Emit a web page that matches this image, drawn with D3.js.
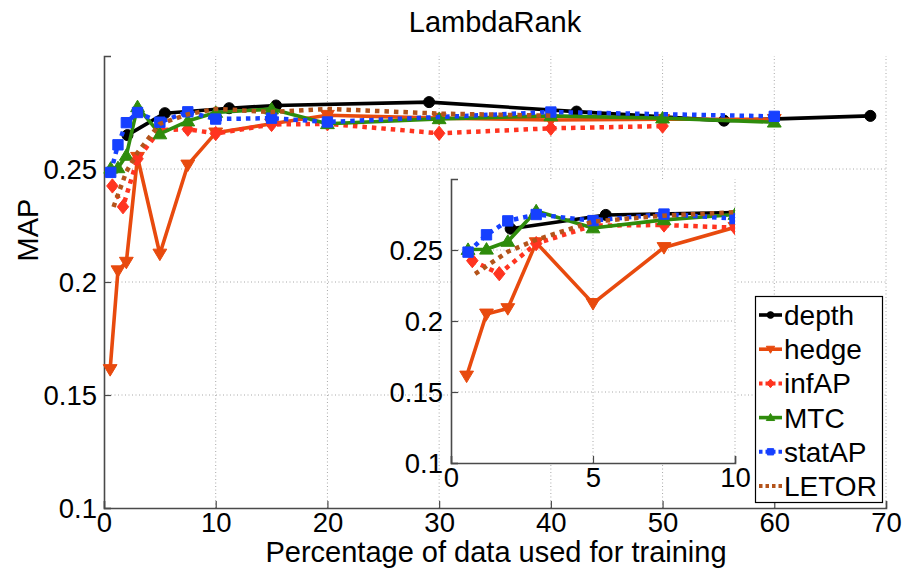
<!DOCTYPE html>
<html>
<head>
<meta charset="utf-8">
<script src="https://cdn.jsdelivr.net/npm/d3@7"></script>
<style>
  html, body { margin: 0; padding: 0; background: #fff; }
  svg { display: block; font-family: "Liberation Sans", Arial, Helvetica, sans-serif; }
</style>
</head>
<body>
<svg id="chart" width="902" height="569"></svg>
<script>
// MAP of LambdaRank as a function of the share of data used for training
const depthX  = [2.1, 5.45, 11.2, 15.4, 29.1, 42.3, 55.5, 68.6];
const depthY  = [0.2650, 0.2747, 0.2769, 0.2781, 0.2796, 0.2754, 0.2714, 0.2735];

const hedgeX  = [0.55, 1.25, 2, 3, 5, 7.5, 10, 15, 20, 30, 40, 50, 60];
const hedgeY  = [0.1613, 0.2050, 0.2088, 0.2552, 0.2124, 0.2518, 0.2660, 0.2700, 0.2738, 0.2725, 0.2717, 0.2720, 0.2720];

const infAPX  = [0.75, 1.7, 3, 5, 7.5, 10, 15, 20, 30, 40, 50];
const infAPY  = [0.2425, 0.2333, 0.2545, 0.2672, 0.2676, 0.2657, 0.2697, 0.2700, 0.2658, 0.2680, 0.2690];

const mtcX    = [0.6, 1.25, 2, 3, 5, 7.5, 10, 15, 20, 30, 40, 50, 60];
const mtcY    = [0.2503, 0.2505, 0.2560, 0.2775, 0.2655, 0.2712, 0.2750, 0.2765, 0.2700, 0.2722, 0.2735, 0.2725, 0.2707];

const statAPX = [0.6, 1.25, 2, 3, 5, 7.5, 10, 15, 20, 40, 60];
const statAPY = [0.2485, 0.2607, 0.2705, 0.2750, 0.2707, 0.2753, 0.2721, 0.2725, 0.2708, 0.2752, 0.2733];

const letorX  = [0.85, 2, 3, 5, 7.5, 10, 15, 20, 30, 40];
const letorY  = [0.2332, 0.2488, 0.2572, 0.2700, 0.2742, 0.2766, 0.2752, 0.2766, 0.2745, 0.2736];

const seriesNames = ["depth", "hedge", "infAP", "MTC", "statAP", "LETOR"];

const mainXTicks  = [0, 10, 20, 30, 40, 50, 60, 70];
const mainYTicks  = [0.1, 0.15, 0.2, 0.25];
const insetXTicks = [0, 5, 10];
const insetYTicks = [0.1, 0.15, 0.2, 0.25];

const titleText  = "LambdaRank";
const xLabelText = "Percentage of data used for training";
const yLabelText = "MAP";

// ---- styling ----
const series = [
  { name: seriesNames[0], xs: depthX,  ys: depthY,  color: "#000000", dash: null,  marker: "circle" },
  { name: seriesNames[1], xs: hedgeX,  ys: hedgeY,  color: "#E84A0E", dash: null,  marker: "tdown" },
  { name: seriesNames[2], xs: infAPX,  ys: infAPY,  color: "#FF3420", dash: "4.5,5", marker: "diamond" },
  { name: seriesNames[3], xs: mtcX,    ys: mtcY,    color: "#2F8C0C", dash: null,  marker: "tup" },
  { name: seriesNames[4], xs: statAPX, ys: statAPY, color: "#1640FF", dash: "4.5,5", marker: "square" },
  { name: seriesNames[5], xs: letorX,  ys: letorY,  color: "#B4531A", dash: "4.5,5", marker: null }
];

const svg = d3.select("#chart");
const axisColor = "#4a4a4a";
const gridColor = "#a8a8a8";

function markerPath(kind, s) {
  const p = d3.path();
  if (kind === "circle") {
    p.arc(0, 0, s * 0.48, 0, 2 * Math.PI);
  } else if (kind === "tdown") {
    p.moveTo(-s * 0.6, -s * 0.42); p.lineTo(s * 0.6, -s * 0.42); p.lineTo(0, s * 0.58); p.closePath();
  } else if (kind === "tup") {
    p.moveTo(-s * 0.6, s * 0.42); p.lineTo(s * 0.6, s * 0.42); p.lineTo(0, -s * 0.58); p.closePath();
  } else if (kind === "diamond") {
    p.moveTo(0, -s * 0.62); p.lineTo(s * 0.5, 0); p.lineTo(0, s * 0.62); p.lineTo(-s * 0.5, 0); p.closePath();
  } else if (kind === "square") {
    p.rect(-s * 0.45, -s * 0.45, s * 0.9, s * 0.9);
  }
  return p.toString();
}

function drawAxesFrame(g, x, y, xTicks, yTicks, fontSize, xLabelDy, yLabelDx) {
  const [x0, x1] = x.range();
  const [y0, y1] = y.range();
  // dotted grid
  const grid = g.append("g");
  xTicks.filter(t => t !== x.domain()[0]).forEach(t => {
    grid.append("line").attr("x1", x(t)).attr("x2", x(t)).attr("y1", y0).attr("y2", y1)
      .attr("stroke", gridColor).attr("stroke-width", 1).attr("stroke-dasharray", "1,2.5");
  });
  yTicks.filter(t => t !== y.domain()[0]).forEach(t => {
    grid.append("line").attr("x1", x0).attr("x2", x1).attr("y1", y(t)).attr("y2", y(t))
      .attr("stroke", gridColor).attr("stroke-width", 1).attr("stroke-dasharray", "1,2.5");
  });
  // axes with inward ticks
  const xAxis = d3.axisBottom(x).tickValues(xTicks).tickSize(-7).tickPadding(0).tickFormat(d3.format("d"));
  const yAxis = d3.axisLeft(y).tickValues(yTicks).tickSize(-7).tickPadding(0).tickFormat(d => String(+d.toFixed(2)));
  const gx = g.append("g").attr("transform", `translate(0,${y0})`).call(xAxis);
  const gy = g.append("g").attr("transform", `translate(${x0},0)`).call(yAxis);
  [gx, gy].forEach(a => {
    a.select(".domain").attr("stroke", axisColor).attr("stroke-width", 1.6);
    a.selectAll(".tick line").attr("stroke", axisColor).attr("stroke-width", 1.2);
    a.selectAll(".tick text").attr("fill", "#000").attr("font-size", fontSize)
      .attr("font-family", "Liberation Sans, Arial, sans-serif");
  });
  gx.selectAll(".tick text").attr("dy", null).attr("y", xLabelDy);
  gy.selectAll(".tick text").attr("dy", "0.36em").attr("x", -yLabelDx);
}

function drawSeries(g, x, y, markerSize) {
  const line = d3.line().x(d => x(d[0])).y(d => y(d[1]));
  series.forEach(s => {
    const pts = s.xs.map((v, i) => [v, s.ys[i]]);
    g.append("path").datum(pts).attr("d", line)
      .attr("fill", "none").attr("stroke", s.color)
      .attr("stroke-width", s.dash ? 4.5 : 3.6)
      .attr("stroke-linejoin", "round")
      .attr("stroke-linecap", s.dash ? "butt" : "round")
      .attr("stroke-dasharray", s.dash);
    if (s.marker) {
      g.selectAll(null).data(pts).enter().append("path")
        .attr("d", markerPath(s.marker, markerSize))
        .attr("transform", d => `translate(${x(d[0])},${y(d[1])})`)
        .attr("fill", s.color).attr("stroke", s.color).attr("stroke-width", 1);
    }
  });
}

// ---- main axes ----
const mx = d3.scaleLinear().domain([0, 70]).range([104, 886]);
const my = d3.scaleLinear().domain([0.1, 0.3]).range([508, 56]);
const mainG = svg.append("g");
drawAxesFrame(mainG, mx, my, mainXTicks, mainYTicks, 27.5, 24, 7);
const mainClip = svg.append("clipPath").attr("id", "mainClip");
mainClip.append("rect").attr("x", 90).attr("y", 40).attr("width", 810).attr("height", 480);
drawSeries(svg.append("g").attr("clip-path", "url(#mainClip)"), mx, my, 11.5);

// title and axis labels
svg.append("text").attr("x", 495).attr("y", 32).attr("text-anchor", "middle")
  .attr("font-size", 29).text(titleText);
svg.append("text").attr("x", 496).attr("y", 562).attr("text-anchor", "middle")
  .attr("font-size", 29).text(xLabelText);
svg.append("text").attr("transform", "translate(38,230) rotate(-90)").attr("text-anchor", "middle")
  .attr("font-size", 29).text(yLabelText);

// ---- inset axes (first 10 %) ----
const ix = d3.scaleLinear().domain([0, 10]).range([451, 735]);
const iy = d3.scaleLinear().domain([0.1, 0.3]).range([463, 179]);
svg.append("rect").attr("x", 451).attr("y", 179).attr("width", 284).attr("height", 284).attr("fill", "#fff");
const insetG = svg.append("g");
drawAxesFrame(insetG, ix, iy, insetXTicks, insetYTicks, 27.5, 24, 8);
const insetClip = svg.append("clipPath").attr("id", "insetClip");
insetClip.append("rect").attr("x", 440).attr("y", 179).attr("width", 295).attr("height", 284);
drawSeries(svg.append("g").attr("clip-path", "url(#insetClip)"), ix, iy, 11.5);

// ---- legend ----
const lg = svg.append("g");
lg.append("rect").attr("x", 755.5).attr("y", 296.5).attr("width", 127).attr("height", 206)
  .attr("fill", "#fff").attr("stroke", "#000").attr("stroke-width", 1.2);
series.forEach((s, i) => {
  const cy = 315 + i * 34.2;
  lg.append("line").attr("x1", 759).attr("x2", 782).attr("y1", cy).attr("y2", cy)
    .attr("stroke", s.color).attr("stroke-width", s.dash ? 4 : 3.6)
    .attr("stroke-dasharray", s.dash ? "3.5,3" : null);
  if (s.marker) {
    lg.append("path").attr("d", markerPath(s.marker, 7)).attr("transform", `translate(770.5,${cy})`)
      .attr("fill", s.color).attr("stroke", s.color);
  }
  lg.append("text").attr("x", 784).attr("y", cy).attr("dy", "0.36em")
    .attr("font-size", 28).text(s.name);
});
</script>
</body>
</html>
